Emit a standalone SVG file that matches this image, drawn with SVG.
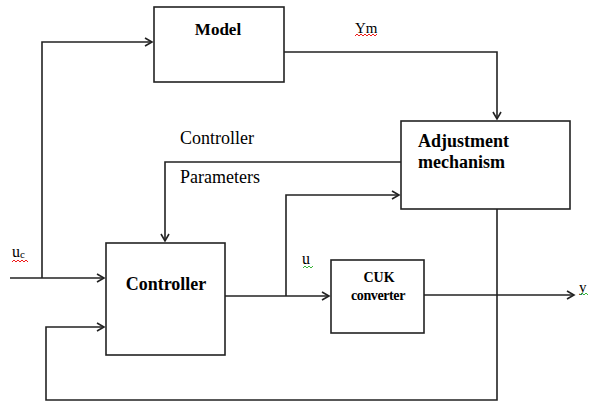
<svg xmlns="http://www.w3.org/2000/svg" width="589" height="402" viewBox="0 0 589 402">
<style>
.box{fill:#fff;stroke:#222;stroke-width:1.6}
.ln{fill:none;stroke:#222;stroke-width:1.6}
.b{font-weight:bold;fill:#000}
.r{fill:#000}
.sq{fill:none;stroke-width:0.9}
</style>
<defs>
<marker id="ar" markerWidth="10" markerHeight="10" refX="8" refY="5" orient="auto" markerUnits="userSpaceOnUse">
<polyline points="1,1 8,5 1,9" fill="none" stroke="#222" stroke-width="1.6"/>
</marker>
</defs>
<rect width="589" height="402" fill="#fff"/>
<g id="connectors">
<polyline class="ln" points="10,278 104,278" marker-end="url(#ar)"/>
<polyline class="ln" points="42,278 42,42 152,42" marker-end="url(#ar)"/>
<polyline class="ln" points="284,52 497,52 497,119" marker-end="url(#ar)"/>
<polyline class="ln" points="401,162 165,162 165,241" marker-end="url(#ar)"/>
<polyline class="ln" points="225,296 329,296" marker-end="url(#ar)"/>
<polyline class="ln" points="286,296 286,195 399,195" marker-end="url(#ar)"/>
<polyline class="ln" points="424,295 574,295" marker-end="url(#ar)"/>
<polyline class="ln" points="497,209 497,400 46,400 46,327 104,327" marker-end="url(#ar)"/>
</g>
<g font-family="'Liberation Serif','Times New Roman','DejaVu Serif',serif">
<g id="model">
<rect class="box" x="154" y="7" width="130" height="75"/>
<text class="b" x="218" y="35" font-size="17" text-anchor="middle">Model</text>
</g>
<g id="adjustment">
<rect class="box" x="401" y="121" width="169" height="88"/>
<text class="b" x="418" y="147" font-size="18">Adjustment</text>
<text class="b" x="418" y="168" font-size="18">mechanism</text>
</g>
<g id="controller">
<rect class="box" x="106" y="243" width="119" height="112"/>
<text class="b" x="166" y="290" font-size="18" text-anchor="middle">Controller</text>
</g>
<g id="cuk">
<rect class="box" x="331" y="260" width="93" height="73"/>
<text class="b" x="379" y="282" font-size="14" text-anchor="middle">CUK</text>
<text class="b" x="378" y="300" font-size="14" text-anchor="middle" letter-spacing="-0.4">converter</text>
</g>
<g id="labels">
<text class="r" x="180" y="144" font-size="18">Controller</text>
<text class="r" x="180" y="183" font-size="18">Parameters</text>
<text class="r" x="355" y="33" font-size="15">Ym</text>
<text class="r" x="12" y="257" font-size="16">u<tspan font-size="11" dy="1">c</tspan></text>
<text class="r" x="302" y="264" font-size="16">u</text>
<text class="r" x="579" y="292" font-size="15">y</text>
</g>
</g>
<g id="squiggles">
<polyline class="sq" stroke="#e00" points="12,262 14,260 16,262 18,260 20,262 22,260 24,262 26,260 28,262"/>
<polyline class="sq" stroke="#e00" points="355,36 357,34 359,36 361,34 363,36 365,34 367,36 369,34 371,36 373,34 375,36 377,34"/>
<polyline class="sq" stroke="#2a2" points="303,268 305,266 307,268 309,266 311,268 313,266"/>
<polyline class="sq" stroke="#2a2" points="580,295 582,293 584,295 586,293 588,295"/>
</g>
</svg>
